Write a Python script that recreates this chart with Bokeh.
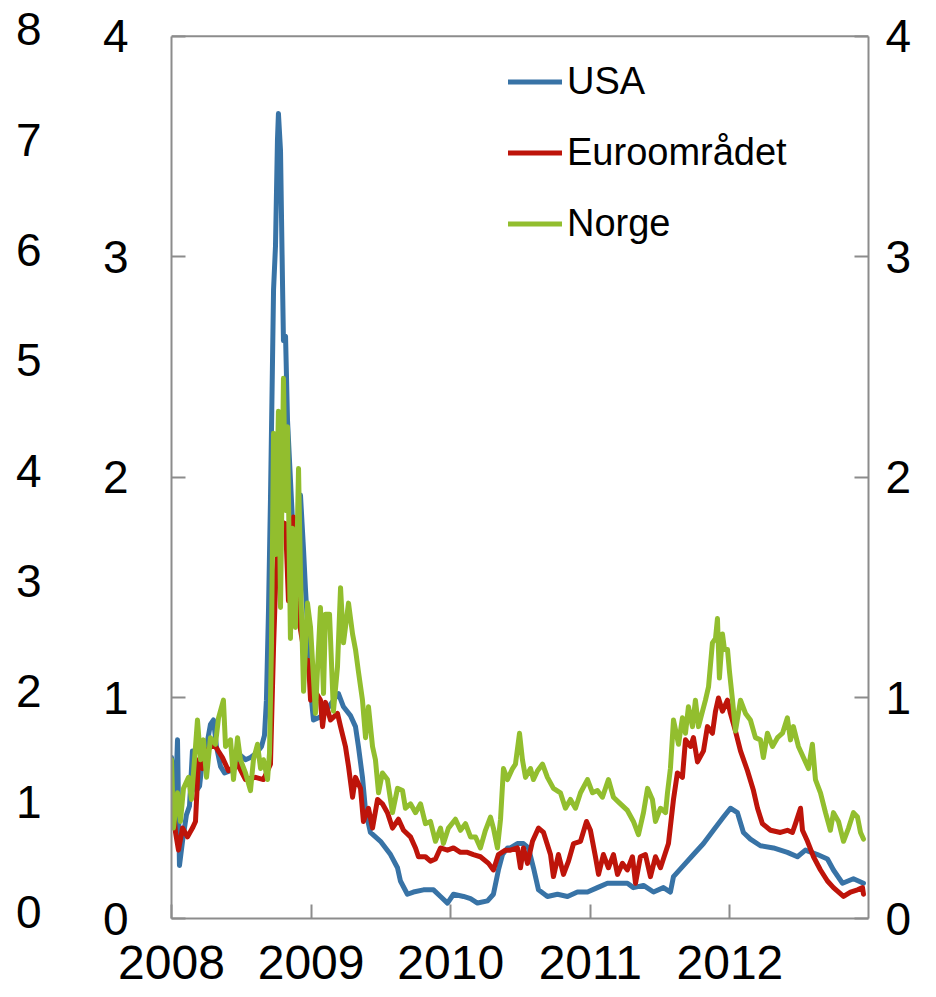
from bokeh.plotting import figure
from bokeh.models import (ColumnDataSource, Range1d, LinearAxis, FixedTicker,
                          Span, Legend, LegendItem)
from bokeh.embed import file_html
from bokeh.resources import INLINE

# ---- data (decimal year, percentage points) ----
usa_t = [2008.000, 2008.029, 2008.043, 2008.057, 2008.079, 2008.107, 2008.129, 2008.150,
         2008.179, 2008.201, 2008.222, 2008.251, 2008.279, 2008.301, 2008.322, 2008.351,
         2008.380, 2008.423, 2008.458, 2008.494, 2008.530, 2008.566, 2008.609, 2008.645,
         2008.666, 2008.680, 2008.695, 2008.709, 2008.731, 2008.745, 2008.759, 2008.766,
         2008.781, 2008.795, 2008.802, 2008.817, 2008.831, 2008.852, 2008.867, 2008.895,
         2008.924, 2008.946, 2008.960, 2008.981, 2009.003, 2009.017, 2009.053, 2009.082,
         2009.139, 2009.196, 2009.232, 2009.282, 2009.318, 2009.339, 2009.368, 2009.390,
         2009.425, 2009.497, 2009.569, 2009.619, 2009.640, 2009.690, 2009.733, 2009.805,
         2009.877, 2009.927, 2009.977, 2010.020, 2010.092, 2010.142, 2010.192, 2010.264,
         2010.306, 2010.342, 2010.371, 2010.407, 2010.428, 2010.478, 2010.521, 2010.557,
         2010.593, 2010.629, 2010.693, 2010.765, 2010.837, 2010.908, 2010.980, 2011.051,
         2011.123, 2011.195, 2011.266, 2011.309, 2011.381, 2011.453, 2011.524, 2011.574,
         2011.596, 2011.667, 2011.739, 2011.811, 2011.882, 2011.954, 2012.004, 2012.054,
         2012.097, 2012.147, 2012.219, 2012.312, 2012.412, 2012.484, 2012.541, 2012.627,
         2012.699, 2012.742, 2012.807, 2012.885, 2012.957]
usa_v = [0.73, 0.54, 0.81, 0.24, 0.35, 0.47, 0.51, 0.76,
         0.58, 0.60, 0.72, 0.78, 0.88, 0.90, 0.78, 0.69,
         0.66, 0.67, 0.69, 0.74, 0.72, 0.73, 0.75, 0.78,
         0.83, 0.99, 1.40, 1.90, 2.85, 3.05, 3.53, 3.65,
         3.48, 2.89, 2.62, 2.64, 2.26, 1.99, 1.80, 1.71,
         1.92, 1.67, 1.49, 1.26, 0.99, 0.90, 0.91, 0.92,
         0.97, 1.02, 0.96, 0.92, 0.87, 0.78, 0.64, 0.49,
         0.39, 0.35, 0.29, 0.23, 0.17, 0.11, 0.12, 0.13,
         0.13, 0.10, 0.07, 0.11, 0.10, 0.09, 0.07, 0.08,
         0.11, 0.22, 0.29, 0.32, 0.32, 0.34, 0.34, 0.32,
         0.23, 0.13, 0.10, 0.11, 0.10, 0.12, 0.12, 0.14,
         0.16, 0.16, 0.16, 0.14, 0.15, 0.12, 0.14, 0.12,
         0.19, 0.24, 0.29, 0.34, 0.40, 0.46, 0.50, 0.48,
         0.39, 0.36, 0.33, 0.32, 0.30, 0.28, 0.31, 0.29,
         0.27, 0.22, 0.16, 0.18, 0.16]

euro_t = [2008.000, 2008.029, 2008.050, 2008.079, 2008.115, 2008.150, 2008.172, 2008.193,
          2008.222, 2008.244, 2008.279, 2008.315, 2008.365, 2008.408, 2008.473, 2008.530,
          2008.602, 2008.659, 2008.709, 2008.731, 2008.745, 2008.759, 2008.781, 2008.817,
          2008.838, 2008.874, 2008.903, 2008.924, 2008.960, 2008.981, 2008.996, 2009.010,
          2009.067, 2009.082, 2009.103, 2009.139, 2009.189, 2009.211, 2009.246, 2009.268,
          2009.297, 2009.318, 2009.354, 2009.375, 2009.411, 2009.440, 2009.476, 2009.511,
          2009.547, 2009.583, 2009.626, 2009.662, 2009.712, 2009.748, 2009.769, 2009.819,
          2009.855, 2009.891, 2009.927, 2009.977, 2010.020, 2010.070, 2010.120, 2010.163,
          2010.213, 2010.271, 2010.306, 2010.342, 2010.392, 2010.428, 2010.478, 2010.500,
          2010.521, 2010.550, 2010.586, 2010.629, 2010.665, 2010.715, 2010.736, 2010.772,
          2010.808, 2010.844, 2010.880, 2010.930, 2010.973, 2011.001, 2011.037, 2011.059,
          2011.094, 2011.130, 2011.166, 2011.195, 2011.230, 2011.266, 2011.302, 2011.324,
          2011.359, 2011.395, 2011.431, 2011.467, 2011.503, 2011.560, 2011.596, 2011.624,
          2011.660, 2011.682, 2011.718, 2011.739, 2011.768, 2011.811, 2011.839, 2011.875,
          2011.897, 2011.918, 2011.947, 2011.983, 2012.004, 2012.040, 2012.076, 2012.126,
          2012.169, 2012.198, 2012.233, 2012.291, 2012.362, 2012.412, 2012.448, 2012.470,
          2012.506, 2012.520, 2012.556, 2012.599, 2012.649, 2012.699, 2012.742, 2012.814,
          2012.864, 2012.914, 2012.950, 2012.957]
euro_v = [0.58, 0.39, 0.31, 0.41, 0.37, 0.41, 0.44, 0.72,
          0.68, 0.75, 0.78, 0.78, 0.73, 0.67, 0.70, 0.63,
          0.64, 0.63, 0.70, 1.23, 1.50, 1.65, 1.80, 1.79,
          1.44, 1.82, 1.44, 1.31, 1.17, 1.17, 0.99, 1.05,
          0.99, 0.87, 0.98, 0.90, 0.93, 0.87, 0.78, 0.69,
          0.55, 0.64, 0.59, 0.44, 0.50, 0.41, 0.54, 0.52,
          0.48, 0.41, 0.45, 0.40, 0.37, 0.32, 0.28, 0.28,
          0.26, 0.27, 0.32, 0.31, 0.32, 0.30, 0.30, 0.29,
          0.28, 0.25, 0.22, 0.29, 0.31, 0.31, 0.32, 0.23,
          0.32, 0.25, 0.35, 0.41, 0.39, 0.29, 0.19, 0.29,
          0.20, 0.26, 0.34, 0.35, 0.44, 0.40, 0.28, 0.20,
          0.29, 0.23, 0.29, 0.20, 0.25, 0.22, 0.28, 0.16,
          0.28, 0.29, 0.19, 0.28, 0.23, 0.34, 0.54, 0.66,
          0.64, 0.81, 0.78, 0.82, 0.71, 0.76, 0.87, 0.84,
          0.94, 1.00, 0.94, 0.99, 0.93, 0.85, 0.76, 0.67,
          0.58, 0.50, 0.43, 0.40, 0.39, 0.40, 0.39, 0.43,
          0.50, 0.40, 0.35, 0.28, 0.22, 0.17, 0.14, 0.10,
          0.12, 0.13, 0.14, 0.11]

norge_t = [2008.000, 2008.014, 2008.043, 2008.064, 2008.086, 2008.122, 2008.143, 2008.172,
           2008.186, 2008.208, 2008.229, 2008.251, 2008.279, 2008.315, 2008.337, 2008.372,
           2008.387, 2008.423, 2008.444, 2008.473, 2008.494, 2008.530, 2008.566, 2008.587,
           2008.616, 2008.638, 2008.659, 2008.688, 2008.702, 2008.716, 2008.731, 2008.745,
           2008.766, 2008.781, 2008.802, 2008.817, 2008.831, 2008.852, 2008.867, 2008.888,
           2008.910, 2008.924, 2008.946, 2008.974, 2008.996, 2009.017, 2009.031, 2009.067,
           2009.089, 2009.103, 2009.132, 2009.160, 2009.189, 2009.211, 2009.232, 2009.268,
           2009.297, 2009.318, 2009.339, 2009.368, 2009.390, 2009.411, 2009.440, 2009.461,
           2009.483, 2009.511, 2009.547, 2009.583, 2009.619, 2009.655, 2009.676, 2009.712,
           2009.748, 2009.784, 2009.819, 2009.855, 2009.891, 2009.927, 2009.948, 2009.984,
           2010.034, 2010.070, 2010.106, 2010.142, 2010.178, 2010.213, 2010.249, 2010.285,
           2010.306, 2010.335, 2010.357, 2010.378, 2010.407, 2010.443, 2010.464, 2010.493,
           2010.514, 2010.536, 2010.572, 2010.593, 2010.622, 2010.658, 2010.693, 2010.736,
           2010.786, 2010.822, 2010.858, 2010.894, 2010.930, 2010.980, 2011.016, 2011.051,
           2011.087, 2011.130, 2011.166, 2011.216, 2011.266, 2011.309, 2011.345, 2011.381,
           2011.410, 2011.445, 2011.467, 2011.503, 2011.539, 2011.553, 2011.574, 2011.596,
           2011.632, 2011.660, 2011.682, 2011.703, 2011.732, 2011.753, 2011.775, 2011.804,
           2011.825, 2011.847, 2011.875, 2011.897, 2011.911, 2011.925, 2011.947, 2011.961,
           2011.983, 2011.997, 2012.019, 2012.040, 2012.076, 2012.112, 2012.147, 2012.183,
           2012.219, 2012.240, 2012.269, 2012.305, 2012.341, 2012.377, 2012.412, 2012.434,
           2012.455, 2012.491, 2012.527, 2012.563, 2012.591, 2012.613, 2012.649, 2012.685,
           2012.720, 2012.742, 2012.778, 2012.814, 2012.850, 2012.885, 2012.914, 2012.936,
           2012.957]
norge_v = [0.72, 0.41, 0.57, 0.44, 0.59, 0.64, 0.54, 0.78,
           0.90, 0.72, 0.81, 0.64, 0.82, 0.79, 0.91, 0.99,
           0.78, 0.81, 0.63, 0.82, 0.72, 0.66, 0.58, 0.72,
           0.79, 0.68, 0.72, 0.63, 0.75, 1.23, 2.20, 1.65,
           2.30, 1.41, 2.45, 1.85, 2.23, 1.27, 1.77, 1.32,
           2.04, 1.56, 1.03, 1.43, 1.32, 1.09, 0.93, 1.41,
           1.02, 1.38, 1.38, 0.94, 1.14, 1.50, 1.25, 1.43,
           1.29, 1.22, 1.12, 0.99, 0.82, 0.96, 0.78, 0.72,
           0.57, 0.66, 0.63, 0.48, 0.59, 0.58, 0.50, 0.52,
           0.48, 0.52, 0.43, 0.44, 0.35, 0.41, 0.34, 0.41,
           0.45, 0.40, 0.43, 0.37, 0.37, 0.32, 0.40, 0.46,
           0.41, 0.32, 0.45, 0.68, 0.63, 0.68, 0.70, 0.84,
           0.72, 0.64, 0.68, 0.63, 0.67, 0.70, 0.64, 0.59,
           0.57, 0.50, 0.54, 0.50, 0.57, 0.63, 0.57, 0.58,
           0.55, 0.63, 0.55, 0.52, 0.49, 0.44, 0.38, 0.48,
           0.59, 0.54, 0.44, 0.50, 0.48, 0.57, 0.68, 0.90,
           0.79, 0.91, 0.84, 0.96, 0.87, 0.99, 0.87, 0.94,
           0.99, 1.05, 1.25, 1.27, 1.36, 1.09, 1.29, 1.22,
           1.22, 1.12, 0.99, 0.85, 0.99, 0.93, 0.90, 0.82,
           0.81, 0.73, 0.84, 0.78, 0.82, 0.84, 0.91, 0.81,
           0.87, 0.78, 0.73, 0.68, 0.79, 0.63, 0.57, 0.48,
           0.40, 0.48, 0.44, 0.35, 0.41, 0.48, 0.46, 0.39,
           0.36]

year_ticks = [2008, 2009, 2010, 2011, 2012]
inner_ticks = [0, 1, 2, 3, 4]
outer_ticks = [0, 1, 2, 3, 4, 5, 6, 7, 8]

FONT = "Liberation Sans"
GRAY = "#8c8c8c"
TICK_SIZE = "46px"

p = figure(width=920, height=989, output_backend="svg", toolbar_location=None,
           x_range=Range1d(2008.0, 2012.993), y_range=Range1d(0, 4.04),
           x_axis_location=None, y_axis_location=None,
           min_border_left=171, min_border_right=52, min_border_top=27,
           min_border_bottom=71)
p.outline_line_color = None
p.xgrid.visible = False
p.ygrid.visible = False
p.background_fill_color = "white"
p.border_fill_color = "white"

p.extra_y_ranges = {"outer": Range1d(-0.059, 8.016)}


def style_axis(ax, standoff, tick_in=14, size=TICK_SIZE):
    ax.axis_line_color = GRAY
    ax.axis_line_width = 2
    ax.major_tick_line_color = GRAY
    ax.major_tick_line_width = 2
    ax.major_tick_in = tick_in
    ax.major_tick_out = 0
    ax.minor_tick_line_color = None
    ax.major_label_text_font = FONT
    ax.major_label_text_font_size = size
    ax.major_label_text_color = "black"
    ax.major_label_standoff = standoff


xax = LinearAxis(ticker=FixedTicker(ticks=year_ticks))
style_axis(xax, 27, size="48px")
p.add_layout(xax, "below")

yl = LinearAxis(ticker=FixedTicker(ticks=inner_ticks), bounds=(0, 4))
style_axis(yl, 43)
p.add_layout(yl, "left")

yo = LinearAxis(ticker=FixedTicker(ticks=outer_ticks), y_range_name="outer")
style_axis(yo, 58)
yo.axis_line_color = None
yo.major_tick_line_color = None
p.add_layout(yo, "left")

yr = LinearAxis(ticker=FixedTicker(ticks=inner_ticks), bounds=(0, 4))
style_axis(yr, 17)
p.add_layout(yr, "right")

p.add_layout(Span(location=4, dimension="width", line_color=GRAY, line_width=2))

series = [("USA", usa_t, usa_v, "#3873a6"),
          ("Euroområdet", euro_t, euro_v, "#be140a"),
          ("Norge", norge_t, norge_v, "#92be2e")]
items = []
for name, t, v, col in series:
    src = ColumnDataSource(dict(t=t, v=v))
    r = p.line("t", "v", source=src, line_color=col, line_width=5,
               line_join="round", line_cap="round")
    items.append(LegendItem(label=name, renderers=[r]))

legend = Legend(items=items, location=(337, 659), orientation="vertical",
                label_text_font=FONT, label_text_font_size="38px",
                label_text_color="black", glyph_width=54, glyph_height=71,
                label_height=71, label_standoff=5, spacing=0, padding=0,
                margin=0, border_line_color=None, background_fill_alpha=0)
p.add_layout(legend, "center")

open("out.html", "w").write(file_html(p, INLINE))
